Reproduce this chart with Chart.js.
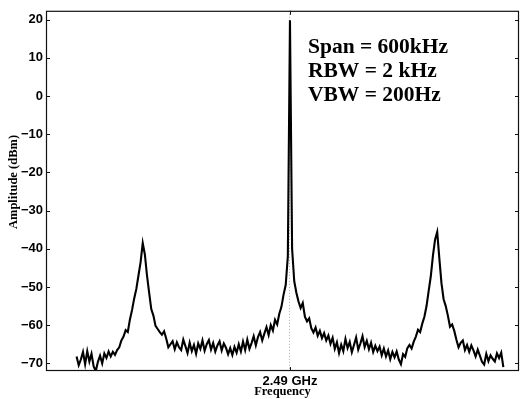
<!DOCTYPE html>
<html>
<head>
<meta charset="utf-8">
<script src="https://cdn.jsdelivr.net/npm/chart.js@4/dist/chart.umd.min.js"></script>
<style>
  html, body { margin: 0; padding: 0; background: #fff; }
  #wrap { width: 520px; height: 399px; }
</style>
</head>
<body>
<div id="wrap"><canvas id="myChart" width="520" height="399"></canvas></div>
<script>
// sweep: 600 kHz span around the carrier, one reading every 3 kHz
const sweepStartKHz = -300;
const sweepStepKHz = 3;
const centerLabel = "2.49 GHz";
const xTitle = "Frequency";
const yTitle = "Amplitude (dBm)";
const yTicks = [20, 10, 0, -10, -20, -30, -40, -50, -60, -70];
const annotationLines = ["Span = 600kHz", "RBW = 2 kHz", "VBW = 200Hz"];

const amplitudeDbm = [
  -68.2, -70.5, -69.0, -67.0, -70.2, -66.8, -69.5, -67.5, -70.8, -72.0,
  -69.6, -68.0, -70.0, -67.4, -68.6, -66.9, -68.2, -67.0, -67.8, -66.5,
  -65.8, -64.0, -63.0, -61.3, -61.8, -58.5, -56.0, -53.0, -50.5, -47.0,
  -43.5, -38.5, -41.5, -47.0, -51.5, -55.8, -57.5, -60.2, -61.0, -61.8,
  -62.5, -61.6, -63.5, -65.8, -65.0, -64.2, -66.3, -64.5, -65.8, -66.5,
  -63.8, -65.5, -67.3, -64.6, -66.8, -65.2, -67.5, -64.8, -66.2, -64.0,
  -66.7, -65.0, -63.9, -66.4, -64.7, -66.9, -65.3, -64.2, -66.6, -64.8,
  -65.9, -67.6, -66.0, -67.8, -65.7, -67.2, -65.0, -66.9, -64.3, -66.5,
  -63.8, -66.2, -64.7, -62.9, -65.3, -63.1, -61.8, -64.0, -62.2, -60.5,
  -62.6, -60.0, -61.4, -58.6, -59.8, -57.0, -55.2, -52.0, -49.5, -42.0,
  19.8,
  -40.0, -48.5, -51.5, -53.8, -55.5, -54.2, -57.8, -59.0, -58.2, -60.8,
  -61.9, -60.6, -62.8, -61.5, -63.4, -62.1, -64.0, -62.7, -64.9, -63.3,
  -66.2, -64.5, -67.3, -65.1, -66.8, -63.6, -66.0, -64.4, -67.1, -65.2,
  -63.2, -66.4, -64.8, -62.9, -65.7, -64.1, -66.3, -64.6, -67.0, -65.4,
  -66.8, -65.6, -67.9, -66.1, -68.2, -66.6, -68.9, -67.0, -68.4, -66.9,
  -69.0, -70.2, -67.6, -68.3, -66.0, -65.2, -66.1, -64.3, -63.0, -61.2,
  -61.8, -59.6, -57.8, -55.0, -51.0, -47.2, -41.8, -37.6, -35.6, -42.5,
  -49.0, -53.2, -55.0, -57.5, -60.4, -59.8, -61.5, -63.8, -65.8, -64.6,
  -64.0, -66.5, -65.2, -67.0, -65.3, -66.6, -68.2, -66.4, -68.0, -69.6,
  -70.3, -67.5, -69.4, -67.9, -68.8, -69.5, -67.4, -68.6, -67.2, -71.0
];

const tracePoints = amplitudeDbm.map((v, i) => ({ x: sweepStartKHz + i * sweepStepKHz, y: v }));

const sansBold = (size) => ({ family: "'Liberation Sans', Arial, sans-serif", size: size, weight: "bold" });
const serifBold = (size) => ({ family: "'Liberation Serif', 'Times New Roman', serif", size: size, weight: "bold" });

// frame, inward ticks, y title and the text block in the top right
const framePlugin = {
  id: "frame",
  afterDraw(chart) {
    const { ctx, chartArea: a, scales } = chart;
    ctx.save();
    ctx.strokeStyle = "#111";
    ctx.lineWidth = 1.2;
    ctx.strokeRect(a.left + 0.5, a.top + 0.5, a.right - a.left - 1, a.bottom - a.top - 1);

    ctx.lineWidth = 1;
    ctx.beginPath();
    yTicks.forEach((t) => {
      const y = Math.round(scales.y.getPixelForValue(t)) + 0.5;
      ctx.moveTo(a.left, y); ctx.lineTo(a.left + 4, y);
      ctx.moveTo(a.right, y); ctx.lineTo(a.right - 4, y);
    });
    const x0 = Math.round(scales.x.getPixelForValue(0)) + 0.5;
    ctx.moveTo(x0, a.bottom); ctx.lineTo(x0, a.bottom - 4);
    ctx.moveTo(x0, a.top); ctx.lineTo(x0, a.top + 4);
    ctx.stroke();

    ctx.fillStyle = "#000";
    // y axis title, rotated
    ctx.save();
    ctx.translate(14, 182);
    ctx.rotate(-Math.PI / 2);
    ctx.font = "bold 12.5px 'Liberation Serif', 'Times New Roman', serif";
    ctx.textAlign = "center";
    ctx.textBaseline = "middle";
    ctx.fillText(yTitle, 0, 0);
    ctx.restore();

    ctx.font = "bold 21.5px 'Liberation Serif', 'Times New Roman', serif";
    ctx.textAlign = "left";
    ctx.textBaseline = "alphabetic";
    annotationLines.forEach((line, i) => ctx.fillText(line, 308, 52.5 + i * 24.3));
    ctx.restore();
  }
};

const config = {
  type: "line",
  data: {
    datasets: [{
      data: tracePoints,
      borderColor: "#000",
      borderWidth: 2.1,
      pointRadius: 0,
      tension: 0,
      fill: false
    }]
  },
  options: {
    responsive: false,
    animation: false,
    devicePixelRatio: 1,
    layout: { padding: { top: 9, right: 1, left: 0, bottom: 0 } },
    plugins: { legend: { display: false }, tooltip: { enabled: false } },
    scales: {
      x: {
        type: "linear",
        min: -343,
        max: 322,
        afterBuildTicks: (scale) => { scale.ticks = [{ value: 0 }]; },
        afterFit: (scale) => { scale.height = 28; },
        grid: { display: true, drawOnChartArea: true, drawTicks: false, color: "#aaa", lineWidth: 1 },
        border: { display: false, dash: [1, 2] },
        ticks: {
          color: "#000",
          font: sansBold(13),
          padding: 3,
          maxRotation: 0,
          callback: () => centerLabel
        },
        title: {
          display: true,
          text: xTitle,
          color: "#000",
          font: serifBold(12.5),
          padding: { top: 0, bottom: 0 }
        }
      },
      y: {
        min: -72,
        max: 22.3,
        afterBuildTicks: (scale) => { scale.ticks = yTicks.map((v) => ({ value: v })); },
        afterFit: (scale) => { scale.width = 46; },
        grid: { display: false, drawTicks: false },
        border: { display: false },
        ticks: {
          color: "#000",
          font: sansBold(13),
          padding: 3,
          callback: (v) => (v < 0 ? "\u2212" + Math.abs(v) : String(v))
        }
      }
    }
  },
  plugins: [framePlugin]
};

const myChart = new Chart(document.getElementById("myChart"), config);
</script>
</body>
</html>
